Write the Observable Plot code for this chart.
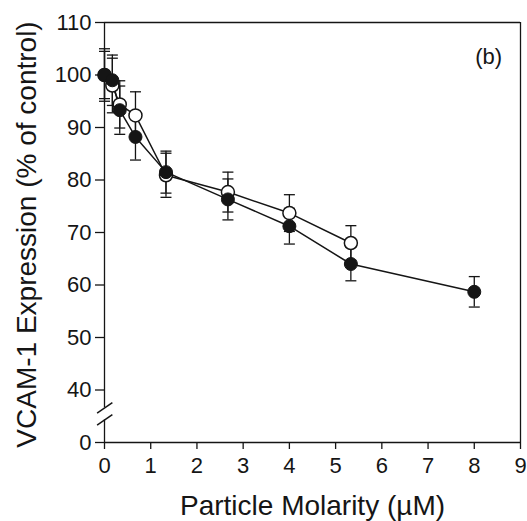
<!DOCTYPE html>
<html><head><meta charset="utf-8">
<script src="https://cdn.jsdelivr.net/npm/d3@7"></script>
<script src="https://cdn.jsdelivr.net/npm/@observablehq/plot@0.6"></script>
<style>
html,body{margin:0;padding:0;background:#fff}
svg{display:block}
</style>
</head><body><div id="chart"></div>
<script>
// ---- data ----
const filledX      = [0, 0.17, 0.33, 0.67, 1.33, 2.67, 4.0, 5.33, 8.0];
const filledY      = [100, 99.0, 93.3, 88.2, 81.5, 76.3, 71.2, 64.0, 58.7];
const filledErr    = [5.0, 4.8, 4.6, 4.4, 4.0, 3.9, 3.4, 3.2, 2.9];
const openX        = [0, 0.17, 0.33, 0.67, 1.33, 2.67, 4.0, 5.33];
const openY        = [100, 98.0, 94.4, 92.3, 80.9, 77.7, 73.7, 68.0];
const openErr      = [4.5, 5.2, 4.5, 4.5, 4.2, 3.8, 3.5, 3.3];
const xTicks       = [0, 1, 2, 3, 4, 5, 6, 7, 8, 9];
const yTicks       = [30, 40, 50, 60, 70, 80, 90, 100, 110];   // 30 stands for the broken "0"
const yTickLabels  = ["0", "40", "50", "60", "70", "80", "90", "100", "110"];
const xLabel       = "Particle Molarity (\u00b5M)";
const yLabel       = "VCAM-1 Expression (% of control)";
const panelLabel   = [{x: 8.31, y: 103.4, text: "(b)"}];
const axisSegments = [{y1: 30, y2: 34.3}, {y1: 36.6, y2: 110}];
const breakMarks   = [{x1: -0.16, y1: 35.6, x2: 0.17, y2: 37.6}, {x1: -0.16, y1: 33.3, x2: 0.17, y2: 35.3}];

const filled = filledX.map((x, i) => ({x, y: filledY[i], e: filledErr[i]}));
const open   = openX.map((x, i) => ({x, y: openY[i], e: openErr[i]}));
const ink = "#151515";
const capSymbol = {draw(ctx, size) { const r = Math.sqrt(size / Math.PI); ctx.moveTo(-r, 0); ctx.lineTo(r, 0); }};

const errMarks = (data) => [
  Plot.ruleX(data, {x: "x", y1: d => d.y - d.e, y2: d => d.y + d.e, stroke: ink, strokeWidth: 1.3}),
  Plot.dot(data, {x: "x", y: d => d.y + d.e, symbol: capSymbol, r: 5.5, stroke: ink, strokeWidth: 1.3}),
  Plot.dot(data, {x: "x", y: d => d.y - d.e, symbol: capSymbol, r: 5.5, stroke: ink, strokeWidth: 1.3})
];

const chart = Plot.plot({
  width: 527, height: 521,
  marginLeft: 104, marginRight: 7, marginTop: 22, marginBottom: 79,
  style: {fontFamily: "'Liberation Sans', Arial, Helvetica, sans-serif", fontSize: "22px", color: ink, background: "#fff"},
  x: {domain: [0, 9], ticks: xTicks},
  y: {domain: [30, 110], ticks: yTicks},
  marks: [
    Plot.axisX({ticks: xTicks, tickSize: 7, tickPadding: 8, label: null, stroke: ink, strokeWidth: 1.3, fontSize: 22}),
    Plot.axisY({ticks: yTicks, tickSize: 9, tickPadding: 4, label: null, tickFormat: d => yTickLabels[yTicks.indexOf(d)], stroke: ink, strokeWidth: 1.3, fontSize: 22}),
    // frame
    Plot.ruleY([30], {x1: 0, x2: 9, stroke: ink, strokeWidth: 1.3}),
    Plot.ruleY([110], {x1: 0, x2: 9, stroke: ink, strokeWidth: 1.3}),
    Plot.ruleX([9], {y1: 30, y2: 110, stroke: ink, strokeWidth: 1.3}),
    Plot.ruleX(axisSegments, {x: 0, y1: "y1", y2: "y2", stroke: ink, strokeWidth: 1.3}),
    Plot.link(breakMarks, {x1: "x1", y1: "y1", x2: "x2", y2: "y2", stroke: ink, strokeWidth: 1.5, clip: false}),
    // lines
    Plot.line(open, {x: "x", y: "y", stroke: ink, strokeWidth: 1.5}),
    Plot.line(filled, {x: "x", y: "y", stroke: ink, strokeWidth: 1.5}),
    ...errMarks(open),
    ...errMarks(filled),
    Plot.dot(open, {x: "x", y: "y", r: 6.5, fill: "#fff", stroke: ink, strokeWidth: 1.5}),
    Plot.dot(filled, {x: "x", y: "y", r: 6.5, fill: ink, stroke: ink, strokeWidth: 1}),
    // labels
    Plot.text(panelLabel, {x: "x", y: "y", text: "text", fontSize: 22, fill: ink}),
    Plot.text([xLabel], {frameAnchor: "bottom", lineAnchor: "middle", dy: 64, fontSize: 28, fill: ink}),
    Plot.text([yLabel], {frameAnchor: "left", textAnchor: "middle", lineAnchor: "middle", rotate: -90, dx: -77, dy: 2, fontSize: 28, fill: ink})
  ]
});
document.getElementById("chart").appendChild(chart);
</script>
</body></html>
